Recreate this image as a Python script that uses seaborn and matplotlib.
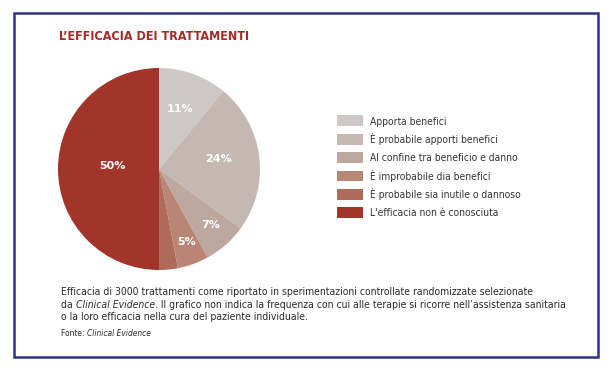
import matplotlib
matplotlib.use("Agg")
import matplotlib.pyplot as plt
from matplotlib.patches import Rectangle
import numpy as np
import seaborn as sns

sns.set_theme(style="white")
plt.rcParams["font.family"] = ["DejaVu Sans"]
plt.rcParams["font.stretch"] = "condensed"

# data
categorie = ["Apporta benefici",
             "È probabile apporti benefici",
             "Al confine tra beneficio e danno",
             "È improbabile dia benefici",
             "È probabile sia inutile o dannoso",
             "L'efficacia non è conosciuta"]
valori = [11, 24, 7, 5, 3, 50]
etichette = ["11%", "24%", "7%", "5%", "", "50%"]
colori = ["#cdc8c5", "#c5b8b3", "#bda79f", "#b98676", "#b06a5a", "#a2342a"]
dist_etichette = [0.6, 0.59, 0.78, 0.8, 0.8, 0.46]

W, H = 611, 370
fig = plt.figure(figsize=(W / 100, H / 100), dpi=100)
fig.canvas.draw()
ren = fig.canvas.get_renderer()


def fit(t, px):
    # scale font so the text spans px pixels
    w = t.get_window_extent(renderer=ren).width
    t.set_fontsize(t.get_fontsize() * px / w)
    return t


# pie
cx, cy, r = 159, 169, 101
ax = fig.add_axes([(cx - r) / W, (H - cy - r) / H, 2 * r / W, 2 * r / H])
wedges, _ = ax.pie(valori, colors=colori, startangle=90, counterclock=False,
                   radius=1, wedgeprops=dict(linewidth=0))
ax.set_xlim(-1, 1)
ax.set_ylim(-1, 1)
ax.set_aspect("auto")
for w, lab, d in zip(wedges, etichette, dist_etichette):
    if not lab:
        continue
    ang = np.deg2rad((w.theta1 + w.theta2) / 2)
    ax.text(d * np.cos(ang), d * np.sin(ang) + 0.03, lab, color="white",
            fontsize=8, fontweight="bold", ha="center", va="center",
            fontstretch="normal")

# legend
leg = fig.legend(wedges, categorie, loc="upper left",
                 bbox_to_anchor=(333 / W, 1 - 111 / H), frameon=False,
                 fontsize=8, handlelength=2.3, handleheight=1.1,
                 labelspacing=0.6, handletextpad=0.6, borderaxespad=0,
                 labelcolor="#333333")
t = fit(fig.text(0, 0, categorie[4], fontsize=8), 150)
legfs = t.get_fontsize()
t.remove()
for tx in leg.get_texts():
    tx.set_fontsize(legfs)

# title
t = fig.text(59 / W, 1 - 36 / H, "L’EFFICACIA DEI TRATTAMENTI", color="#a52b25",
             fontsize=11, fontweight="bold", va="center", ha="left")
fit(t, 190)

# caption
col = "#2a2a2a"
t1 = fig.text(61 / W, 1 - 292 / H,
              "Efficacia di 3000 trattamenti come riportato in sperimentazioni controllate randomizzate selezionate",
              fontsize=8, color=col, va="center")
fit(t1, 472)
fs = t1.get_fontsize()
x = 61 / W
y2 = 1 - 304.5 / H
for txt, st in [("da ", "normal"), ("Clinical Evidence", "italic"),
                (". Il grafico non indica la frequenza con cui alle terapie si ricorre nell’assistenza sanitaria", "normal")]:
    t = fig.text(x, y2, txt, fontsize=fs, color=col, va="center", style=st)
    bb = t.get_window_extent(renderer=ren)
    x += bb.width / W
fig.text(61 / W, 1 - 317 / H,
         "o la loro efficacia nella cura del paziente individuale.",
         fontsize=fs, color=col, va="center")
fs2 = fs * 0.8
t = fig.text(61 / W, 1 - 334 / H, "Fonte: ", fontsize=fs2, color=col, va="center")
bb = t.get_window_extent(renderer=ren)
fig.text(61 / W + bb.width / W, 1 - 334 / H, "Clinical Evidence", fontsize=fs2,
         color=col, va="center", style="italic")

# frame
fig.patches.append(Rectangle((13.5 / W, 1 - 357 / H), 584 / W, 344 / H,
                             transform=fig.transFigure, fill=False,
                             edgecolor="#2e3192", linewidth=1.8))

fig.savefig("out.png", dpi=100)
